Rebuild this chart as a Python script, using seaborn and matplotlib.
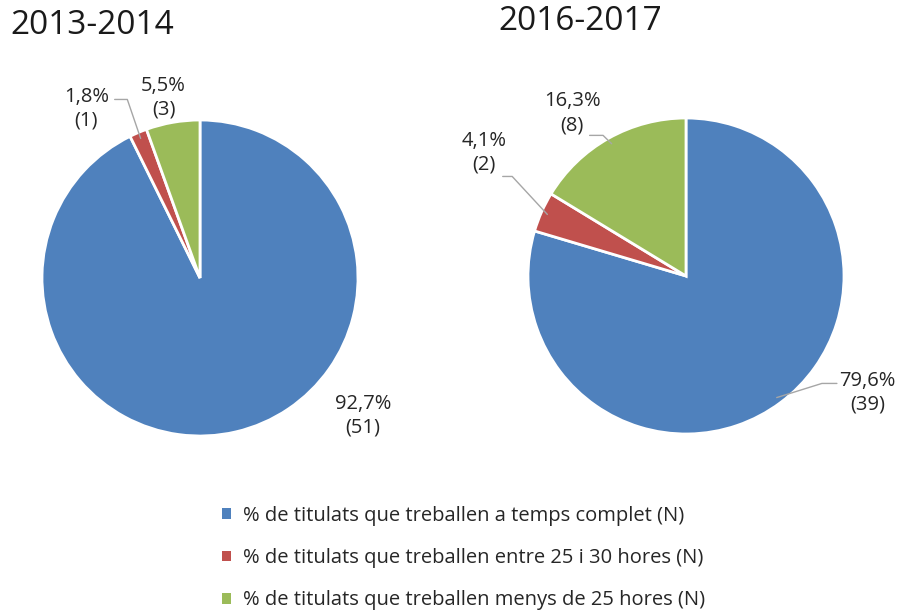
import matplotlib
matplotlib.use("Agg")
import matplotlib.pyplot as plt
import numpy as np
import seaborn as sns
from matplotlib.patches import Patch

# --- data ---
years = ["2013-2014", "2016-2017"]
categories = [
    "% de titulats que treballen a temps complet (N)",
    "% de titulats que treballen entre 25 i 30 hores (N)",
    "% de titulats que treballen menys de 25 hores (N)",
]
counts_1314 = [51, 1, 3]
counts_1617 = [39, 2, 8]
pct_1314 = [92.7, 1.8, 5.5]
pct_1617 = [79.6, 4.1, 16.3]

sns.set_theme(style="white")
plt.rcParams["font.family"] = ["Open Sans", "DejaVu Sans"]
colors = ["#4F81BD", "#C0504D", "#9BBB59"]
grey = "#A6A6A6"

W, H = 898, 616
fig = plt.figure(figsize=(W / 100, H / 100), dpi=100)


def pie_axes(cx, cy, r):
    ax = fig.add_axes([(cx - r) / W, (H - cy - r) / H, 2 * r / W, 2 * r / H])
    ax.axis("off")
    return ax


def fmt(p, n):
    return f"{p:.1f}%".replace(".", ",") + f"\n({n})"


def draw(ax, pcts, counts, label_pos, leaders):
    wedges, _ = ax.pie(pcts, colors=colors, startangle=90, counterclock=False,
                       radius=1, wedgeprops=dict(edgecolor="white", linewidth=2))
    # pie() resets the limits, so pin them afterwards
    ax.set_xlim(-1, 1)
    ax.set_ylim(-1, 1)
    ax.set_aspect("equal")
    for i, (w, p, n) in enumerate(zip(wedges, pcts, counts)):
        tx, ty = label_pos[i]
        ax.text(tx, ty, fmt(p, n), ha="center", va="center", fontsize=14.5,
                color="#262626", linespacing=1.25)
        if leaders[i] is not None:
            (sx, sy), kx = leaders[i]
            mid = np.deg2rad((w.theta1 + w.theta2) / 2)
            ex, ey = 0.96 * np.cos(mid), 0.96 * np.sin(mid)
            ax.plot([sx, kx, ex], [sy, sy, ey], color=grey, lw=1, clip_on=False)
    return wedges


ax1 = pie_axes(200, 278, 158)
draw(ax1, pct_1314, counts_1314,
     [(1.03, -0.87), (-0.72, 1.07), (-0.23, 1.14)],
     [None, ((-0.54, 1.13), -0.46), None])

ax2 = pie_axes(686, 276, 158)
draw(ax2, pct_1617, counts_1617,
     [(1.15, -0.74), (-1.28, 0.78), (-0.72, 1.03)],
     [((0.955, -0.68), 0.86), ((-1.16, 0.63), -1.10), ((-0.61, 0.89), -0.525)])

fig.text(10 / W, 1 - 25 / H, years[0], fontsize=24, ha="left", va="center", color="#1a1a1a")
fig.text(580 / W, 1 - 22 / H, years[1], fontsize=24, ha="center", va="center", color="#1a1a1a")

handles = [Patch(facecolor=c, edgecolor="none") for c in colors]
fig.legend(handles, categories, loc="upper left",
           bbox_to_anchor=(212 / W, 1 - 496 / H), frameon=False,
           fontsize=14.5, handlelength=0.45, handleheight=0.45,
           handletextpad=0.6, labelspacing=1.1, borderpad=0)

fig.savefig("out.png", dpi=100)
